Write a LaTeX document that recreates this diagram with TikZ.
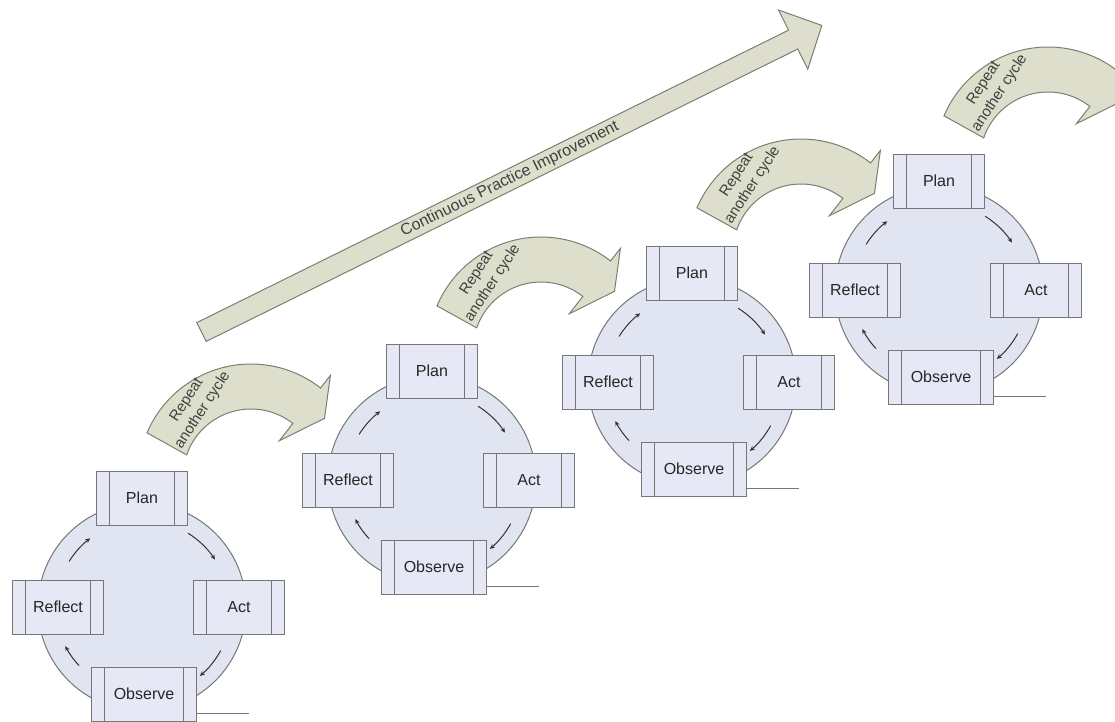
\documentclass[tikz,border=0pt]{standalone}
\usepackage{fontspec}
\setmainfont{Liberation Sans}
\usetikzlibrary{arrows.meta}

\definecolor{ringfill}{RGB}{225,229,241}
\definecolor{boxfill}{RGB}{230,233,245}
\definecolor{linegrey}{RGB}{118,118,118}
\definecolor{sage}{RGB}{221,223,204}
\definecolor{sageline}{RGB}{125,125,115}

\tikzset{
  process/.style={draw=linegrey, fill=boxfill, line width=1pt, minimum width=91pt, minimum height=54pt,
    inner sep=0pt, font=\fontsize{16}{18}\selectfont, text=black!85,
    path picture={\draw[linegrey, line width=1pt]
      ([xshift=13pt]path picture bounding box.north west) -- ([xshift=13pt]path picture bounding box.south west)
      ([xshift=-13pt]path picture bounding box.north east) -- ([xshift=-13pt]path picture bounding box.south east);}},
  ring/.style={draw=linegrey, fill=ringfill, line width=1pt},
  turn/.style={black!80, line width=1pt, -{Stealth[length=5pt,width=4.5pt]}},
  bentarrow/.style={draw=sageline, fill=sage, line width=1pt, line join=miter},
  arrowtext/.style={font=\fontsize{15}{19}\selectfont, text=black!75, align=center}
}

\begin{document}
\begin{tikzpicture}[x=1pt,y=1pt]
\useasboundingbox (0,0) rectangle (1115,-721);
\clip (0,0) rectangle (1115,-721);

% long arrow
\begin{scope}[shift={(201.5,-332)}, rotate=26.3]
\draw[bentarrow] (0,-10.5) -- (660,-10.5) -- (660,-33) -- (692,0) -- (660,33) -- (660,10.5) -- (0,10.5) -- cycle;
\node[font=\fontsize{16}{18}\selectfont, text=black!75, rotate=26.3] (cpi) at (344,0) {Continuous Practice Improvement};
\end{scope}

\foreach \i/\cx/\cy in {1/142/607, 2/432/480, 3/692/382, 4/939/290} {
  \coordinate (c\i) at (\cx,-\cy);
  \coordinate (ar\i) at ([shift={(109,130)}]c\i);

  \draw[ring] (c\i) circle[radius=104];

  \draw[turn] ([shift={(58:87)}]c\i) arc[start angle=58, end angle=33, radius=87];
  \draw[turn] ([shift={(-29:90)}]c\i) arc[start angle=-29, end angle=-50, radius=90];
  \draw[turn] ([shift={(-137:86)}]c\i) arc[start angle=-137, end angle=-153, radius=86];
  \draw[turn] ([shift={(148:86)}]c\i) arc[start angle=148, end angle=127, radius=86];

  \node[process] (plan\i) at ([shift={(0,109)}]c\i) {Plan};
  \node[process] (reflect\i) at ([shift={(-84,0)}]c\i) {Reflect};
  \node[process] (act\i) at ([shift={(97,0)}]c\i) {Act};
  \node[process, minimum width=105pt] (observe\i) at ([shift={(2,-87)}]c\i) {Observe};
  \draw[linegrey, line width=1pt] ([yshift=8pt]observe\i.south east) -- ++(52,0);

  \draw[bentarrow] ([shift={(157:113)}]ar\i) arc[start angle=157, end angle=52, radius=113]
    -- ([shift={(52:129)}]ar\i) -- ([shift={(38.6:94)}]ar\i) -- ([shift={(52:46)}]ar\i)
    -- ([shift={(52:68)}]ar\i) arc[start angle=52, end angle=161, radius=68] -- cycle;
  \node[arrowtext, rotate=57] (repeat\i) at ([shift={(128:91)}]ar\i) {Repeat\\another cycle};
}
\end{tikzpicture}
\end{document}
